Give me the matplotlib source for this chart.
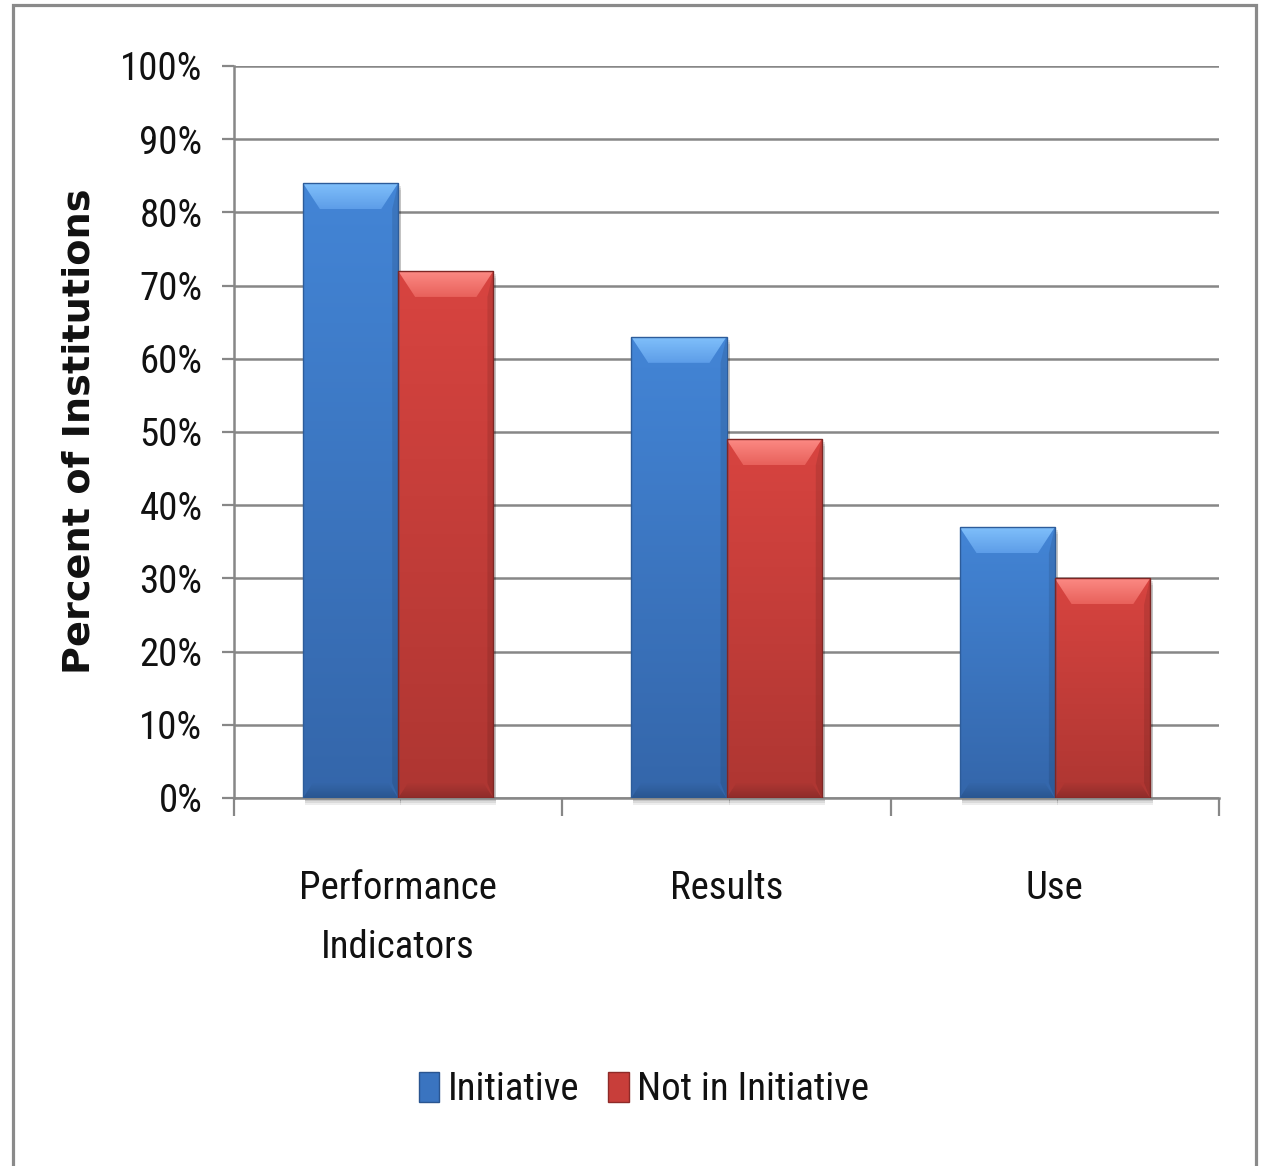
import matplotlib
matplotlib.use("Agg")
import matplotlib.pyplot as plt
import numpy as np
from matplotlib import font_manager
from matplotlib.patches import Polygon, Rectangle, Patch
from matplotlib.colors import LinearSegmentedColormap

# ---- data -------------------------------------------------------------
categories = ["Performance\nIndicators", "Results", "Use"]
initiative = [84, 63, 37]
not_in_initiative = [72, 49, 30]
series_names = ["Initiative", "Not in Initiative"]
y_ticks = [0, 10, 20, 30, 40, 50, 60, 70, 80, 90, 100]
y_tick_labels = [f"{v}%" for v in y_ticks]
y_label = "Percent of Institutions"

# ---- fonts ------------------------------------------------------------
available = {f.name for f in font_manager.fontManager.ttflist}
narrow = next((n for n in ["Liberation Sans Narrow", "Roboto Condensed",
                           "Open Sans Condensed"] if n in available),
              "Liberation Sans")
FS = 28

# ---- figure / axes geometry (pixels) ---------------------------------
W, H = 1262, 1166
fig = plt.figure(figsize=(W / 100, H / 100), dpi=100)
fig.patch.set_facecolor("white")
ax_l, ax_r, ax_t, ax_b = 234, 1219, 66, 798
ax = fig.add_axes([ax_l / W, (H - ax_b) / H, (ax_r - ax_l) / W, (ax_b - ax_t) / H])
ax.set_xlim(-0.5, 2.5)
ax.set_ylim(0, 100)

# data units per pixel
sx = 3.0 / (ax_r - ax_l)
sy = 100.0 / (ax_b - ax_t)

GRID = "#878787"
ax.set_yticks(y_ticks)
ax.set_yticklabels(y_tick_labels, fontsize=FS, family=narrow)
ax.yaxis.grid(True, color=GRID, lw=1.8, zorder=0)
ax.set_axisbelow(True)
ax.tick_params(axis="y", length=12 * 0.72, width=1.6, color=GRID, pad=14, labelcolor="#111111")

x = np.arange(len(categories))
ax.set_xticks(x)
ax.set_xticklabels(categories, fontsize=FS, family=narrow, linespacing=1.75)
ax.tick_params(axis="x", which="major", length=0, pad=52, labelcolor="#111111")
ax.set_xticks([-0.5, 0.5, 1.5, 2.5], minor=True)
ax.tick_params(axis="x", which="minor", length=18 * 0.72, width=1.6, color=GRID)

for side in ("top", "right"):
    ax.spines[side].set_visible(False)
for side in ("left", "bottom"):
    ax.spines[side].set_color(GRID)
    ax.spines[side].set_linewidth(1.8)

# ---- bevelled bars ---------------------------------------------------
styles = [
    dict(top="#4385d6", bot="#3466aa", light="#80c0fb", mid="#5d9de8",
         dark="#2a5690", edge="#2d5c9a"),
    dict(top="#d84440", bot="#ae3632", light="#fc8a84", mid="#e8615b",
         dark="#8e2c2a", edge="#7e2624"),
]
bw = 0.29
bev_w, bev_h = 17 * sx, 26 * sy
bot_w, bot_h = 10 * sx, 15 * sy
grad = np.linspace(0, 1, 256).reshape(-1, 1)


def gradient_polygon(verts, y_lo, y_hi, c_lo, c_hi, z):
    poly = Polygon(verts, closed=True, facecolor="none", edgecolor="none", lw=0)
    ax.add_patch(poly)
    xs = [v[0] for v in verts]
    cm = LinearSegmentedColormap.from_list("g", [c_lo, c_hi])
    im = ax.imshow(grad, extent=[min(xs), max(xs), y_lo, y_hi], origin="lower",
                   cmap=cm, aspect="auto", zorder=z, interpolation="bicubic")
    im.set_clip_path(poly)


for si, (vals, st) in enumerate(zip([initiative, not_in_initiative], styles)):
    offs = (si - 0.5) * bw
    bars = ax.bar(x + offs, vals, width=bw, color=st["top"], edgecolor="none",
                  zorder=3, label=series_names[si])
    cmap = LinearSegmentedColormap.from_list("g", [st["bot"], st["top"]])
    for rect in bars:
        x0 = rect.get_x()
        x1 = x0 + rect.get_width()
        h = rect.get_height()
        # soft drop shadow
        for k, a in ((7, 0.07), (5, 0.08), (3, 0.10)):
            ax.add_patch(Rectangle((x0 + 2 * sx, -k * sy), x1 - x0 + 1 * sx, h, color="#000000",
                                   alpha=a, lw=0, zorder=2, clip_on=False))
        # vertical gradient body
        img = ax.imshow(grad, extent=[x0, x1, 0, h], origin="lower", cmap=cmap,
                        aspect="auto", zorder=3.1, interpolation="bicubic")
        img.set_clip_path(rect)
        # right side darker strip
        ax.add_patch(Polygon([(x1, h), (x1 - bev_w * 0.35, h - bev_h), (x1 - bot_w * 0.6, bot_h),
                              (x1, 0)], closed=True, color="#000000", alpha=0.10,
                             lw=0, zorder=3.2))
        # bottom bevel (darker towards the base)
        gradient_polygon([(x0, 0), (x1, 0), (x1 - bot_w, bot_h), (x0 + bot_w, bot_h)],
                         0, bot_h, st["dark"], st["bot"], 3.3)
        # top bevel (lighter towards the top)
        gradient_polygon([(x0, h), (x1, h), (x1 - bev_w, h - bev_h), (x0 + bev_w, h - bev_h)],
                         h - bev_h, h, st["mid"], st["light"], 3.3)
        # outline
        ax.add_patch(Rectangle((x0, 0), x1 - x0, h, fill=False, edgecolor=st["edge"],
                               lw=1.0, zorder=3.5))

ax.set_xlim(-0.5, 2.5)
ax.set_ylim(0, 100)

# ---- axis title -------------------------------------------------------
fig.text(80 / W, 1 - 431 / H, y_label, rotation=90, ha="center", va="center",
         fontsize=27.5, fontweight="bold", family="DejaVu Sans", color="#111111")

# ---- legend -----------------------------------------------------------
handles = [Patch(facecolor="#3a74c0", edgecolor="#2a5590", lw=1.0),
           Patch(facecolor="#c83e3a", edgecolor="#8e2a28", lw=1.0)]
fig.legend(handles, series_names, loc="center", bbox_to_anchor=(644 / W, 1 - 1090 / H),
           ncol=2, frameon=False, prop={"family": narrow, "size": FS},
           handlelength=0.52, handleheight=0.8, handletextpad=0.22, columnspacing=0.75,
           labelcolor="#111111")

# ---- chart border -----------------------------------------------------
fig.add_artist(Rectangle((13 / W, -0.02), 1243 / W, (H - 5) / H + 0.02,
                         transform=fig.transFigure, fill=False, edgecolor="#8a8a8a",
                         lw=2.3, clip_on=False))

fig.savefig("out.png", dpi=100, facecolor="white")
